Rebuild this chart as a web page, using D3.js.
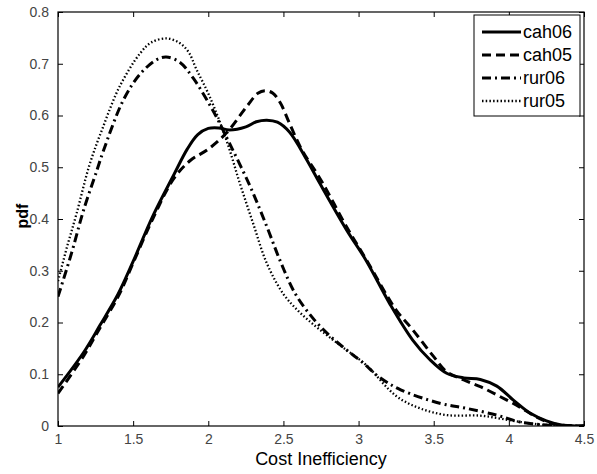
<!DOCTYPE html>
<html>
<head>
<meta charset="utf-8">
<script src="https://cdn.jsdelivr.net/npm/d3@7"></script>
<style>
  html, body { margin: 0; padding: 0; background: #fff; }
  svg { display: block; font-family: "Liberation Sans", Arial, sans-serif; }
</style>
</head>
<body>
<svg id="chart" width="597" height="474"></svg>
<script>
// ---- data ----
const seriesNames = ["cah06", "cah05", "rur06", "rur05"];

const cah06X = [1.0, 1.17, 1.28, 1.4, 1.5, 1.63, 1.77, 1.86, 1.93, 2.0, 2.07, 2.14, 2.25, 2.32, 2.39, 2.46, 2.54, 2.65, 2.74, 2.92, 3.05, 3.21, 3.36, 3.475, 3.586, 3.7, 3.81, 3.92, 4.03, 4.14, 4.25, 4.35, 4.5];
const cah06Y = [0.075, 0.142, 0.195, 0.255, 0.318, 0.405, 0.485, 0.535, 0.563, 0.575, 0.576, 0.572, 0.578, 0.588, 0.591, 0.587, 0.568, 0.517, 0.47, 0.379, 0.32, 0.235, 0.166, 0.128, 0.102, 0.093, 0.09, 0.077, 0.05, 0.025, 0.01, 0.002, 0.0];

const cah05X = [1.0, 1.17, 1.28, 1.4, 1.5, 1.63, 1.77, 1.88, 2.0, 2.12, 2.255, 2.33, 2.38, 2.43, 2.48, 2.54, 2.62, 2.75, 2.92, 3.05, 3.25, 3.36, 3.5, 3.586, 3.7, 3.81, 3.94, 4.07, 4.18, 4.3, 4.5];
const cah05Y = [0.063, 0.135, 0.19, 0.25, 0.315, 0.4, 0.478, 0.513, 0.535, 0.566, 0.617, 0.643, 0.648, 0.643, 0.624, 0.585, 0.535, 0.475, 0.385, 0.322, 0.224, 0.186, 0.134, 0.105, 0.089, 0.076, 0.057, 0.037, 0.018, 0.004, 0.0];

const rur06X = [1.0, 1.09, 1.17, 1.26, 1.3, 1.435, 1.546, 1.657, 1.72, 1.81, 1.9, 2.03, 2.14, 2.28, 2.39, 2.48, 2.58, 2.7, 2.81, 2.92, 3.03, 3.14, 3.28, 3.54, 3.72, 3.92, 4.07, 4.25, 4.5];
const rur06Y = [0.25, 0.334, 0.417, 0.495, 0.53, 0.63, 0.68, 0.708, 0.713, 0.703, 0.672, 0.61, 0.547, 0.462, 0.385, 0.318, 0.255, 0.207, 0.174, 0.147, 0.122, 0.094, 0.07, 0.044, 0.034, 0.021, 0.008, 0.002, 0.0];

const rur05X = [1.0, 1.06, 1.124, 1.21, 1.3, 1.41, 1.546, 1.62, 1.723, 1.81, 1.87, 1.92, 2.01, 2.12, 2.21, 2.3, 2.39, 2.5, 2.6, 2.7, 2.8, 2.9, 3.05, 3.25, 3.41, 3.59, 3.81, 3.99, 4.14, 4.3, 4.5];
const rur05Y = [0.28, 0.346, 0.411, 0.505, 0.578, 0.656, 0.72, 0.741, 0.749, 0.74, 0.722, 0.69, 0.636, 0.553, 0.469, 0.39, 0.314, 0.255, 0.222, 0.196, 0.173, 0.151, 0.118, 0.058, 0.034, 0.021, 0.02, 0.012, 0.005, 0.001, 0.0];

const xTicks = [1, 1.5, 2, 2.5, 3, 3.5, 4, 4.5];
const yTicks = [0, 0.1, 0.2, 0.3, 0.4, 0.5, 0.6, 0.7, 0.8];
const xLabel = "Cost Inefficiency";
const yLabel = "pdf";

// ---- layout ----
const L = 58, R = 584, T = 12, B = 426;
const x = d3.scaleLinear().domain([1, 4.5]).range([L, R]);
const y = d3.scaleLinear().domain([0, 0.8]).range([B, T]);

const svg = d3.select("#chart");

const styles = {
  cah06: { dash: null, width: 3 },
  cah05: { dash: "9,5", width: 3 },
  rur06: { dash: "9,4,2,4", width: 3 },
  rur05: { dash: "1.5,2.2", width: 2.3 }
};

const series = [
  { name: "cah06", xs: cah06X, ys: cah06Y },
  { name: "cah05", xs: cah05X, ys: cah05Y },
  { name: "rur06", xs: rur06X, ys: rur06Y },
  { name: "rur05", xs: rur05X, ys: rur05Y }
];

svg.append("defs").append("clipPath").attr("id", "clip")
  .append("rect").attr("x", L).attr("y", T).attr("width", R - L).attr("height", B - T);

const line = d3.line()
  .x(d => x(d[0])).y(d => y(d[1]))
  .curve(d3.curveCatmullRom.alpha(0.5));

const g = svg.append("g").attr("clip-path", "url(#clip)");
series.slice().reverse().forEach(s => {
  const pts = s.xs.map((v, i) => [v, s.ys[i]]);
  g.append("path")
    .datum(pts)
    .attr("d", line)
    .attr("fill", "none")
    .attr("stroke", "#000")
    .attr("stroke-width", styles[s.name].width)
    .attr("stroke-dasharray", styles[s.name].dash)
    .attr("stroke-linejoin", "round");
});

// ---- axes (box with inward ticks) ----
const tickStyle = sel => {
  sel.select(".domain").remove();
  sel.selectAll(".tick line").attr("stroke", "#000");
  sel.selectAll(".tick text").attr("fill", "#444").style("font-size", "14px")
    .style("font-family", "'Liberation Sans', Arial, sans-serif");
};

svg.append("g").attr("transform", `translate(0,${B})`)
  .call(d3.axisBottom(x).tickValues(xTicks).tickFormat(d3.format("")).tickSizeInner(-5).tickSizeOuter(0).tickPadding(8))
  .call(tickStyle);
svg.append("g").attr("transform", `translate(0,${T})`)
  .call(d3.axisTop(x).tickValues(xTicks).tickFormat("").tickSizeInner(-5).tickSizeOuter(0))
  .call(tickStyle);
svg.append("g").attr("transform", `translate(${L},0)`)
  .call(d3.axisLeft(y).tickValues(yTicks).tickFormat(d3.format("")).tickSizeInner(-5).tickSizeOuter(0).tickPadding(9))
  .call(tickStyle);
svg.append("g").attr("transform", `translate(${R},0)`)
  .call(d3.axisRight(y).tickValues(yTicks).tickFormat("").tickSizeInner(-5).tickSizeOuter(0))
  .call(tickStyle);

svg.append("rect")
  .attr("x", L).attr("y", T).attr("width", R - L).attr("height", B - T)
  .attr("fill", "none").attr("stroke", "#000").attr("stroke-width", 1.2);

// ---- axis labels ----
svg.append("text")
  .attr("x", (L + R) / 2).attr("y", 465)
  .attr("text-anchor", "middle")
  .style("font-size", "18px")
  .text(xLabel);

svg.append("text")
  .attr("transform", "translate(28,216) rotate(-90)")
  .attr("text-anchor", "middle")
  .style("font-size", "16px").style("font-weight", "bold")
  .text(yLabel);

// ---- legend ----
const lg = svg.append("g");
lg.append("rect")
  .attr("x", 474).attr("y", 15).attr("width", 106).attr("height", 101)
  .attr("fill", "#fff").attr("stroke", "#000").attr("stroke-width", 1);
const legendY = d3.scalePoint().domain(seriesNames).range([32, 101]);
seriesNames.forEach(n => {
  const yy = legendY(n);
  lg.append("line")
    .attr("x1", 482).attr("x2", 521).attr("y1", yy).attr("y2", yy)
    .attr("stroke", "#000").attr("stroke-width", styles[n].width)
    .attr("stroke-dasharray", styles[n].dash);
  lg.append("text")
    .attr("x", 523).attr("y", yy).attr("dy", "0.35em")
    .style("font-size", "18px")
    .text(n);
});
</script>
</body>
</html>
